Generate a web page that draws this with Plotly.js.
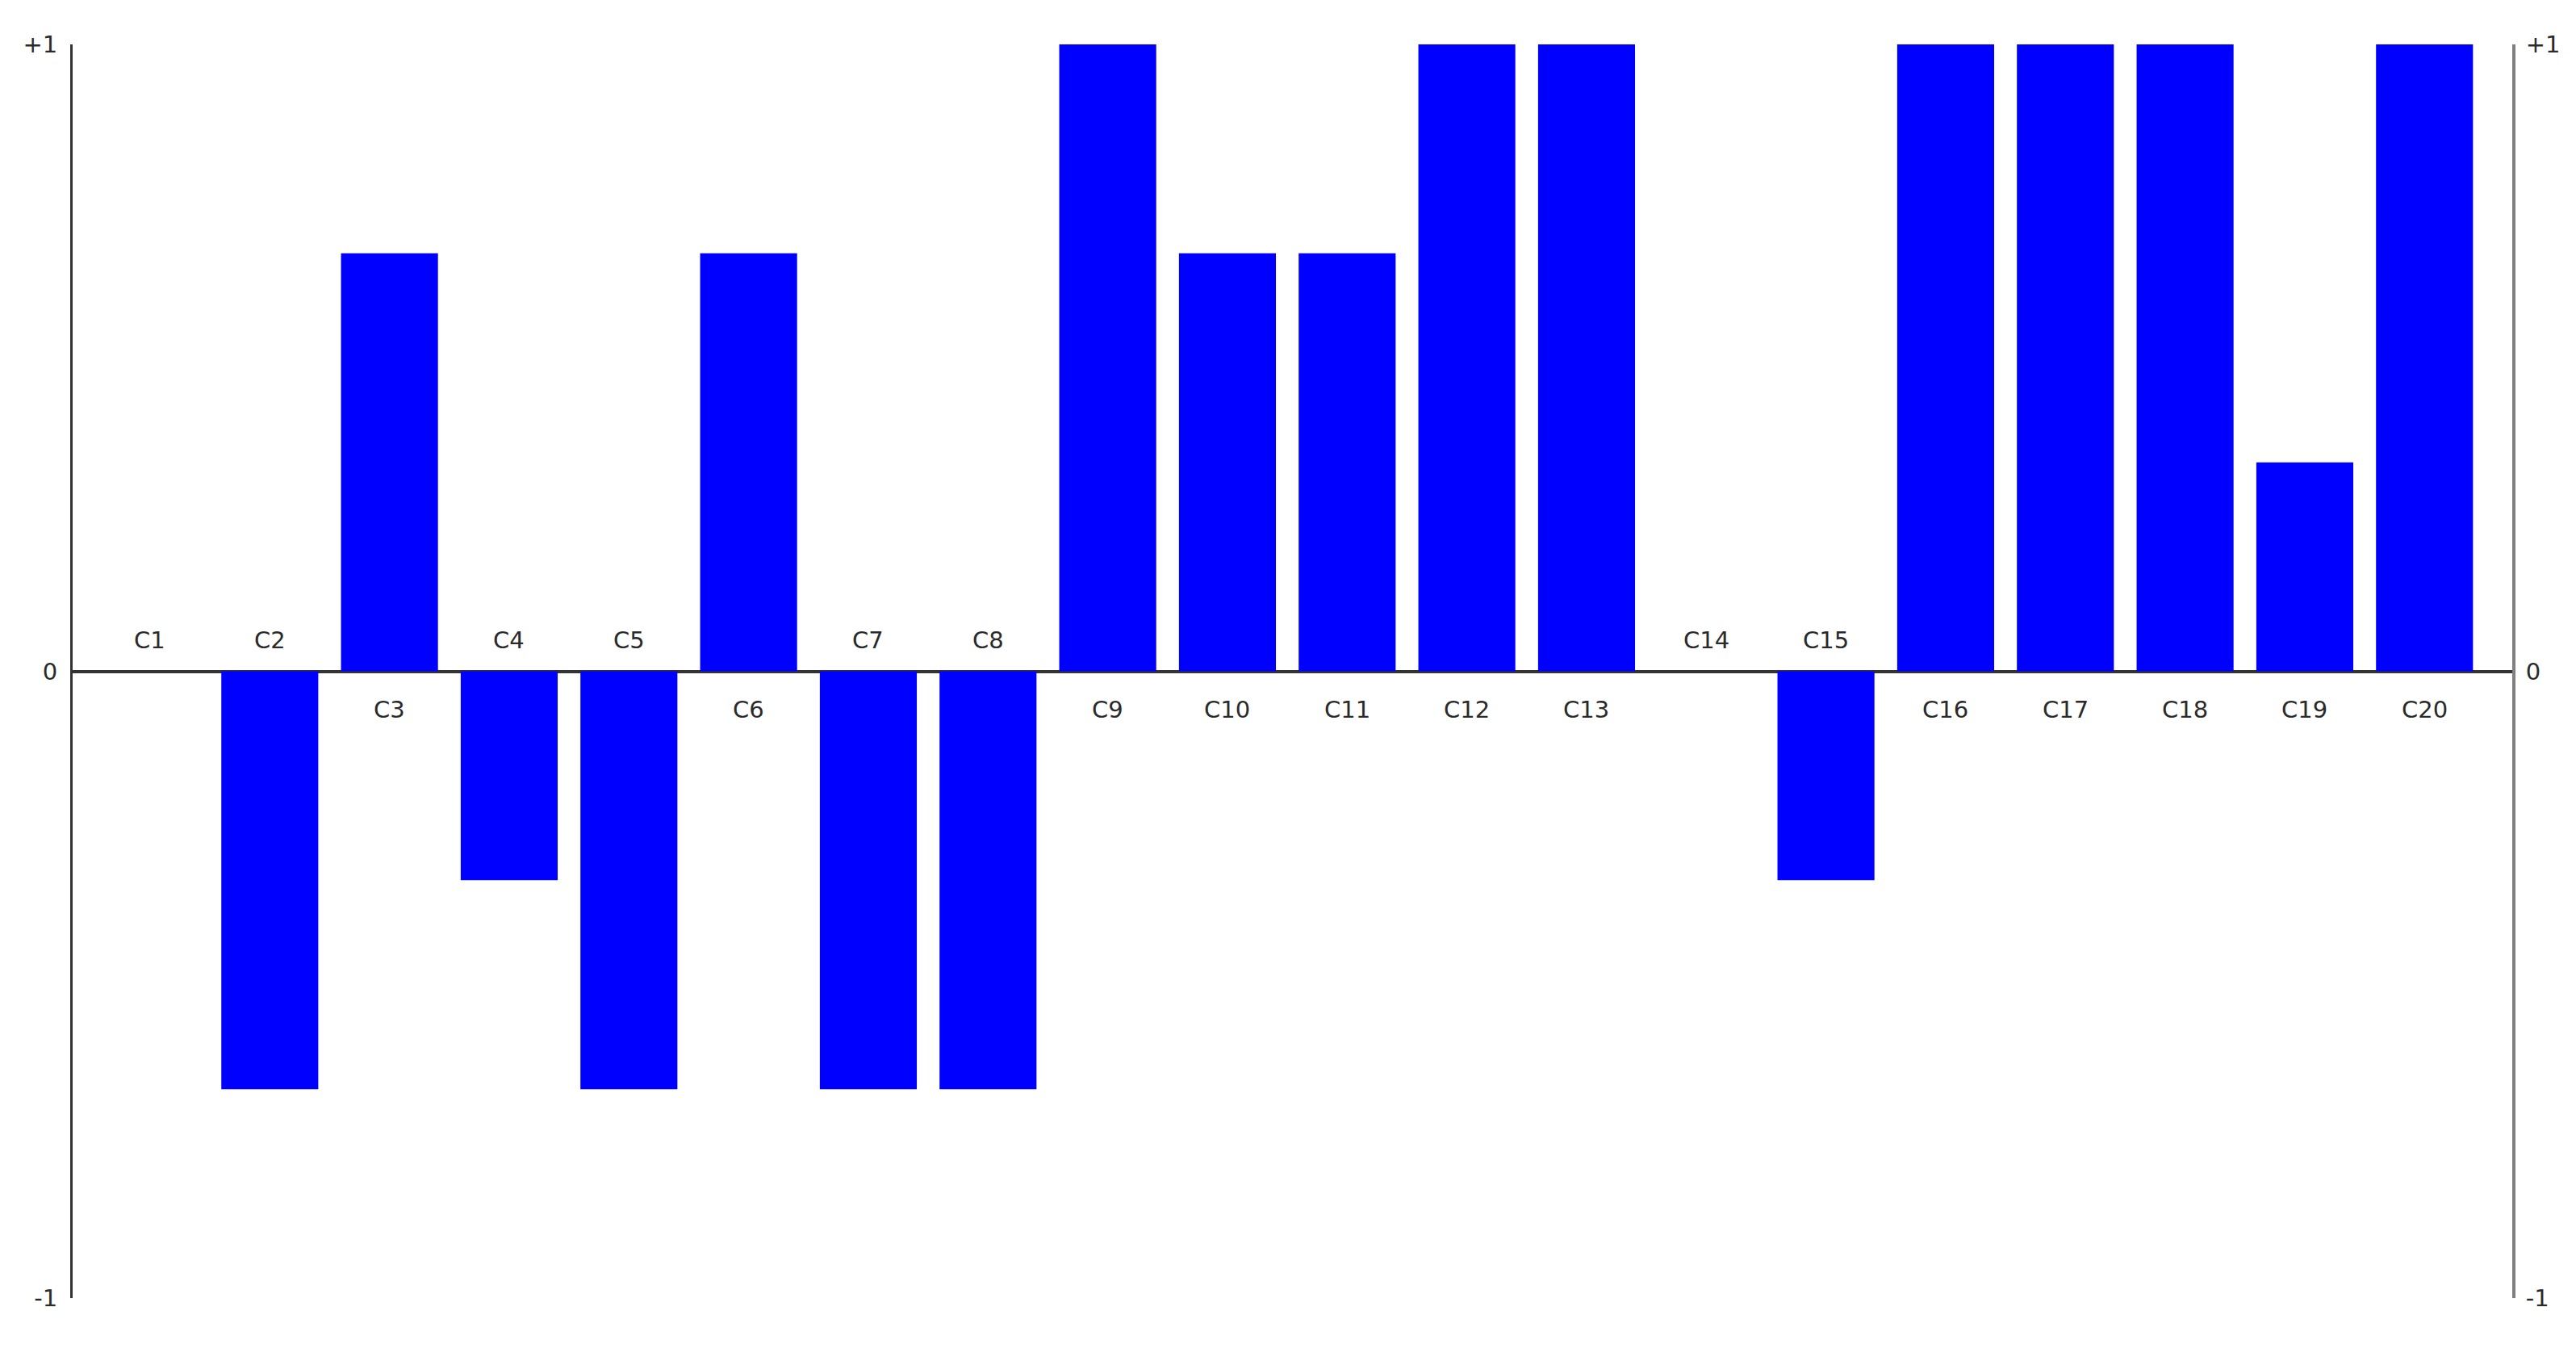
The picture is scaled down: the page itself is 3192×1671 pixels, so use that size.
<!DOCTYPE html>
<html>
<head>
<meta charset="utf-8">
<script src="https://cdn.plot.ly/plotly-3.0.1.min.js"></script>
<style>
  html, body { margin: 0; padding: 0; background: #fff; }
  #chart { width: 3192px; height: 1671px; }
</style>
</head>
<body>
<div id="chart"></div>
<script>
// Category names and values (in thirds)
const categories = ['C1', 'C2', 'C3', 'C4', 'C5', 'C6', 'C7', 'C8', 'C9', 'C10',
                    'C11', 'C12', 'C13', 'C14', 'C15', 'C16', 'C17', 'C18', 'C19', 'C20'];
const values = [0, -2/3, 2/3, -1/3, -2/3, 2/3, -2/3, -2/3, 1, 2/3,
                2/3, 1, 1, 0, -1/3, 1, 1, 1, 1/3, 1];
const tickValues = [-1, 0, 1];
const tickLabels = ['-1', '0', '+1'];

const labelFont = { family: 'DejaVu Sans, Verdana, sans-serif', size: 29, color: '#2a2a2a' };

// Bars
const bars = {
    x: categories,
    y: values,
    type: 'bar',
    marker: { color: '#0000ff', line: { width: 0 } },
    hoverinfo: 'x+y',
    showlegend: false
};

// Same values on the right-hand axis, invisible, so that axis gets drawn
const mirror = {
    x: categories,
    y: values,
    yaxis: 'y2',
    type: 'scatter',
    mode: 'markers',
    marker: { opacity: 0 },
    hoverinfo: 'skip',
    showlegend: false
};

// Category labels: below the zero line for positive bars, above otherwise
const labels = categories.map((c, i) => ({
    x: c,
    y: 0,
    xref: 'x',
    yref: 'y',
    text: c,
    showarrow: false,
    yanchor: 'middle',
    yshift: values[i] > 0 ? -47 : 39,
    font: labelFont
}));

const layout = {
    width: 3192,
    height: 1671,
    margin: { t: 55, b: 63, l: 90, r: 79 },
    paper_bgcolor: '#ffffff',
    plot_bgcolor: '#ffffff',
    bargap: 0.19,
    xaxis: {
        type: 'category',
        range: [-0.647, 19.733],
        showticklabels: false,
        showgrid: false,
        zeroline: false,
        showline: false,
        ticks: ''
    },
    yaxis: {
        range: [-1, 1],
        tickvals: tickValues,
        ticktext: tickLabels,
        ticks: '',
        ticklabelstandoff: 10,
        showgrid: false,
        showline: true,
        linecolor: '#333333',
        linewidth: 3,
        zeroline: true,
        zerolinecolor: '#333333',
        zerolinewidth: 4,
        tickfont: labelFont
    },
    yaxis2: {
        overlaying: 'y',
        side: 'right',
        range: [-1, 1],
        tickvals: tickValues,
        ticktext: tickLabels,
        ticks: '',
        ticklabelstandoff: 7,
        showgrid: false,
        showline: true,
        linecolor: '#808080',
        linewidth: 4,
        zeroline: false,
        tickfont: labelFont
    },
    annotations: labels
};

Plotly.newPlot('chart', [bars, mirror], layout, { displayModeBar: false, staticPlot: true });
</script>
</body>
</html>
